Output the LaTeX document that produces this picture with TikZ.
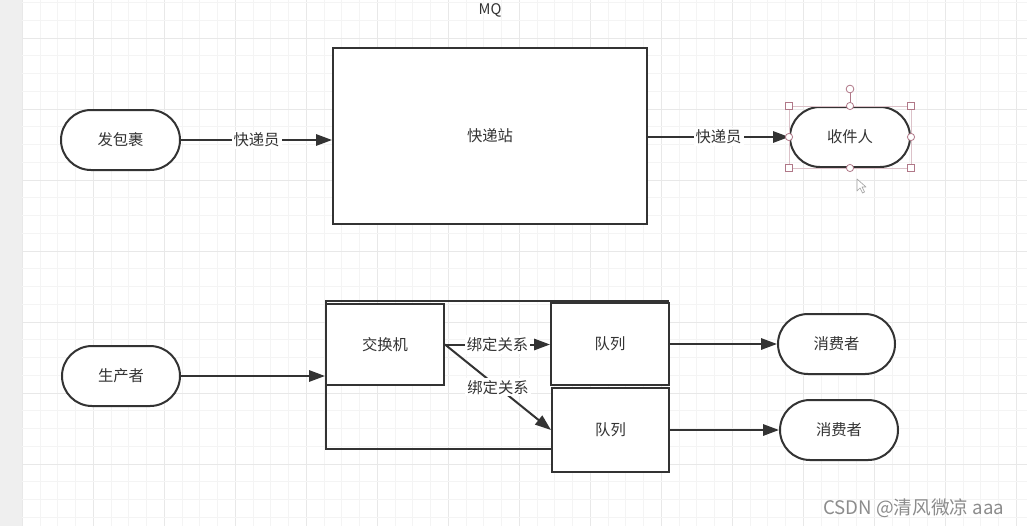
\documentclass[tikz,border=0pt]{standalone}
\usepackage{fontspec}
\setmainfont{Noto Sans CJK SC}
\usetikzlibrary{arrows.meta}
\definecolor{ink}{HTML}{333333}
\definecolor{gminor}{HTML}{F4F4F4}
\definecolor{gmajor}{HTML}{E8E8E8}
\definecolor{strip}{HTML}{EFEFEF}
\definecolor{sel}{HTML}{B07888}
\definecolor{wm}{HTML}{8C8C8C}
\tikzset{
  txt/.style={text=ink, font=\fontsize{11.5pt}{13pt}\selectfont},
  box/.style={txt, draw=ink, line width=1.5pt, inner sep=0pt, fill=white},
  pill/.style={box, rounded corners=22.5pt, minimum height=45pt},
  conn/.style={draw=ink, line width=1.5pt, -{Triangle[length=12pt,width=8.5pt]}},
  lbl/.style={txt, fill=white, inner sep=1.5pt},
  handle/.style={draw=sel, fill=white, line width=0.6pt},
}
\begin{document}
\begin{tikzpicture}[x=0.75pt,y=-0.75pt]
\useasboundingbox (0,0) rectangle (1027,526);
\fill[white] (0,0) rectangle (1027,526);
% grid
\foreach \i in {0,...,57}{
  \pgfmathsetmacro{\xx}{22.3+17.75*\i}
  \pgfmathtruncatemacro{\m}{mod(\i,4)}
  \ifnum\m=0 \draw[gmajor, line width=0.7pt] (\xx,0) -- (\xx,526);
  \else \draw[gminor, line width=0.6pt] (\xx,0) -- (\xx,526); \fi
}
\foreach \j in {0,...,29}{
  \pgfmathsetmacro{\yy}{2.5+17.75*\j}
  \pgfmathtruncatemacro{\m}{mod(\j,4)}
  \ifnum\m=2 \draw[gmajor, line width=0.7pt] (22.3,\yy) -- (1027,\yy);
  \else \draw[gminor, line width=0.6pt] (22.3,\yy) -- (1027,\yy); \fi
}
\fill[strip] (0,0) rectangle (22,526);

% title
\node[txt, font=\fontsize{11pt}{12pt}\selectfont] (mq) at (490,10) {MQ};

% top row
\node[pill, minimum width=89.25pt] (fa) at (120.5,140) {发包裹};
\node[box, minimum width=235.5pt, minimum height=132pt] (zhan) at (490,136) {快递站};
\node[pill, minimum width=90pt] (shou) at (850,137) {收件人};

\draw[conn] (fa.east) -- (fa.east -| zhan.west) node[lbl, midway] {快递员};
\draw[conn] (zhan.east |- shou.west) -- (shou.west) node[lbl, midway] {快递员};

% selection handles
\draw[sel!45, line width=0.4pt] (shou.north west) rectangle (shou.south east);
\coordinate (rot) at ([yshift=12.75pt]shou.north);
\draw[sel, line width=0.6pt] (shou.north) -- (rot);
\foreach \a in {north west, north east, south west, south east}
  \draw[handle] ([xshift=-2.6pt,yshift=-2.6pt]shou.\a) rectangle ([xshift=2.6pt,yshift=2.6pt]shou.\a);
\foreach \a in {north, south, east, west}
  \draw[handle] (shou.\a) circle (2.7pt);
\draw[handle] (rot) circle (2.9pt);
% cursor
\draw[fill=white, draw=gray!70, line width=0.5pt, line join=round]
  (857,179) -- (857,191) -- (860,188) -- (862.5,193) -- (864.5,192) -- (862,187) -- (866,187) -- cycle;

% bottom row
\coordinate (ftl) at (326,301);
\coordinate (ftr) at (669,301);
\coordinate (fbl) at (326,449);
\coordinate (fbr) at (552,449);
\draw[ink, line width=1.5pt] (ftr) -- (ftl) -- (fbl) -- (fbr);

\node[pill, minimum width=88.5pt] (sheng) at (121,376) {生产者};
\node[box, minimum width=88.5pt, minimum height=60.75pt] (jiao) at (385,344.5) {交换机};
\node[box, minimum width=88.5pt, minimum height=61.5pt] (dui1) at (610,344) {队列};
\node[box, minimum width=87.75pt, minimum height=63pt] (dui2) at (610.5,430) {队列};
\node[pill, minimum width=87.75pt] (xiao1) at (836.5,344) {消费者};
\node[pill, minimum width=88.5pt] (xiao2) at (839,430) {消费者};

\draw[conn] (sheng.east) -- (sheng.east -| jiao.west);
\draw[conn] (jiao.east) -- (jiao.east -| dui1.west) node[lbl, midway] {绑定关系};
\draw[conn] (jiao.east) -- (dui2.west) node[lbl, midway] {绑定关系};
\draw[conn] (dui1.east) -- (xiao1.west);
\draw[conn] (dui2.east) -- (xiao2.west);

% watermark
\node[text=wm, font=\fontsize{14pt}{16pt}\selectfont, anchor=west, inner sep=0pt] (wmk) at (823,508) {CSDN @清风微凉 aaa};
\end{tikzpicture}
\end{document}
